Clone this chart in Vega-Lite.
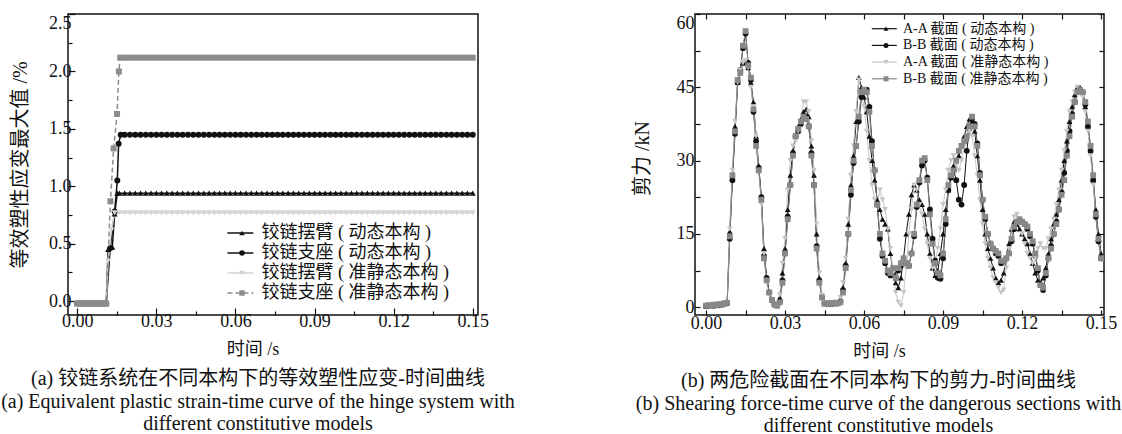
{
"$schema": "https://vega.github.io/schema/vega-lite/v6.json",
"background": "white",
"padding": {"left": 0, "top": 12, "right": 0, "bottom": 0},
"bounds": "flush",
"spacing": 217,
"config": {
"view": {"stroke": "#111", "strokeWidth": 1.5},
"font": "Liberation Serif, Noto Sans CJK SC",
"axis": {"grid": false, "domain": false, "labelFont": "Liberation Serif", "labelFontSize": 18, "labelColor": "#111", "titleFont": "Liberation Serif, Noto Sans CJK SC", "titleFontSize": 18, "titleFontWeight": "normal", "titleColor": "#111", "tickColor": "#111", "tickWidth": 1.2, "labelOverlap": false},
"legend": {"labelFont": "Liberation Serif, Noto Sans CJK SC", "labelColor": "#111", "padding": 0, "labelLimit": 400},
"title": {"font": "Liberation Serif, Noto Sans CJK SC", "fontSize": 20, "fontWeight": "normal", "color": "#111"}
},
"resolve": {"scale": {"color": "independent", "shape": "independent", "strokeDash": "independent"}, "legend": {"color": "independent", "shape": "independent", "strokeDash": "independent"}},
"datasets": {
"a": [
{"t":0,"s":"a1","v":-0.02},{"t":0.001,"s":"a1","v":-0.02},{"t":0.002,"s":"a1","v":-0.02},{"t":0.003,"s":"a1","v":-0.02},{"t":0.004,"s":"a1","v":-0.02},{"t":0.005,"s":"a1","v":-0.02},{"t":0.006,"s":"a1","v":-0.02},{"t":0.007,"s":"a1","v":-0.02},{"t":0.008,"s":"a1","v":-0.02},{"t":0.009,"s":"a1","v":-0.02},{"t":0.01,"s":"a1","v":-0.02},{"t":0.011,"s":"a1","v":-0.02},
{"t":0.0117,"s":"a1","v":0.45},{"t":0.0133,"s":"a1","v":0.47},{"t":0.0142,"s":"a1","v":0.76},{"t":0.0152,"s":"a1","v":0.94},
{"t":0.016,"s":"a1","v":0.94},{"t":0.018,"s":"a1","v":0.94},{"t":0.02,"s":"a1","v":0.94},{"t":0.022,"s":"a1","v":0.94},{"t":0.024,"s":"a1","v":0.94},{"t":0.026,"s":"a1","v":0.94},{"t":0.028,"s":"a1","v":0.94},{"t":0.03,"s":"a1","v":0.94},{"t":0.032,"s":"a1","v":0.94},{"t":0.034,"s":"a1","v":0.94},{"t":0.036,"s":"a1","v":0.94},{"t":0.038,"s":"a1","v":0.94},{"t":0.04,"s":"a1","v":0.94},{"t":0.042,"s":"a1","v":0.94},{"t":0.044,"s":"a1","v":0.94},{"t":0.046,"s":"a1","v":0.94},{"t":0.048,"s":"a1","v":0.94},{"t":0.05,"s":"a1","v":0.94},{"t":0.052,"s":"a1","v":0.94},{"t":0.054,"s":"a1","v":0.94},{"t":0.056,"s":"a1","v":0.94},{"t":0.058,"s":"a1","v":0.94},{"t":0.06,"s":"a1","v":0.94},{"t":0.062,"s":"a1","v":0.94},{"t":0.064,"s":"a1","v":0.94},{"t":0.066,"s":"a1","v":0.94},{"t":0.068,"s":"a1","v":0.94},{"t":0.07,"s":"a1","v":0.94},{"t":0.072,"s":"a1","v":0.94},{"t":0.074,"s":"a1","v":0.94},{"t":0.076,"s":"a1","v":0.94},{"t":0.078,"s":"a1","v":0.94},{"t":0.08,"s":"a1","v":0.94},{"t":0.082,"s":"a1","v":0.94},{"t":0.084,"s":"a1","v":0.94},{"t":0.086,"s":"a1","v":0.94},{"t":0.088,"s":"a1","v":0.94},{"t":0.09,"s":"a1","v":0.94},{"t":0.092,"s":"a1","v":0.94},{"t":0.094,"s":"a1","v":0.94},{"t":0.096,"s":"a1","v":0.94},{"t":0.098,"s":"a1","v":0.94},{"t":0.1,"s":"a1","v":0.94},{"t":0.102,"s":"a1","v":0.94},{"t":0.104,"s":"a1","v":0.94},{"t":0.106,"s":"a1","v":0.94},{"t":0.108,"s":"a1","v":0.94},{"t":0.11,"s":"a1","v":0.94},{"t":0.112,"s":"a1","v":0.94},{"t":0.114,"s":"a1","v":0.94},{"t":0.116,"s":"a1","v":0.94},{"t":0.118,"s":"a1","v":0.94},{"t":0.12,"s":"a1","v":0.94},{"t":0.122,"s":"a1","v":0.94},{"t":0.124,"s":"a1","v":0.94},{"t":0.126,"s":"a1","v":0.94},{"t":0.128,"s":"a1","v":0.94},{"t":0.13,"s":"a1","v":0.94},{"t":0.132,"s":"a1","v":0.94},{"t":0.134,"s":"a1","v":0.94},{"t":0.136,"s":"a1","v":0.94},{"t":0.138,"s":"a1","v":0.94},{"t":0.14,"s":"a1","v":0.94},{"t":0.142,"s":"a1","v":0.94},{"t":0.144,"s":"a1","v":0.94},{"t":0.146,"s":"a1","v":0.94},{"t":0.148,"s":"a1","v":0.94},{"t":0.15,"s":"a1","v":0.94},
{"t":0,"s":"a2","v":-0.02},{"t":0.001,"s":"a2","v":-0.02},{"t":0.002,"s":"a2","v":-0.02},{"t":0.003,"s":"a2","v":-0.02},{"t":0.004,"s":"a2","v":-0.02},{"t":0.005,"s":"a2","v":-0.02},{"t":0.006,"s":"a2","v":-0.02},{"t":0.007,"s":"a2","v":-0.02},{"t":0.008,"s":"a2","v":-0.02},{"t":0.009,"s":"a2","v":-0.02},{"t":0.01,"s":"a2","v":-0.02},{"t":0.011,"s":"a2","v":-0.02},
{"t":0.0125,"s":"a2","v":0.46},{"t":0.0142,"s":"a2","v":0.78},{"t":0.0152,"s":"a2","v":1.05},{"t":0.0157,"s":"a2","v":1.37},{"t":0.0165,"s":"a2","v":1.45},
{"t":0.018,"s":"a2","v":1.45},{"t":0.02,"s":"a2","v":1.45},{"t":0.022,"s":"a2","v":1.45},{"t":0.024,"s":"a2","v":1.45},{"t":0.026,"s":"a2","v":1.45},{"t":0.028,"s":"a2","v":1.45},{"t":0.03,"s":"a2","v":1.45},{"t":0.032,"s":"a2","v":1.45},{"t":0.034,"s":"a2","v":1.45},{"t":0.036,"s":"a2","v":1.45},{"t":0.038,"s":"a2","v":1.45},{"t":0.04,"s":"a2","v":1.45},{"t":0.042,"s":"a2","v":1.45},{"t":0.044,"s":"a2","v":1.45},{"t":0.046,"s":"a2","v":1.45},{"t":0.048,"s":"a2","v":1.45},{"t":0.05,"s":"a2","v":1.45},{"t":0.052,"s":"a2","v":1.45},{"t":0.054,"s":"a2","v":1.45},{"t":0.056,"s":"a2","v":1.45},{"t":0.058,"s":"a2","v":1.45},{"t":0.06,"s":"a2","v":1.45},{"t":0.062,"s":"a2","v":1.45},{"t":0.064,"s":"a2","v":1.45},{"t":0.066,"s":"a2","v":1.45},{"t":0.068,"s":"a2","v":1.45},{"t":0.07,"s":"a2","v":1.45},{"t":0.072,"s":"a2","v":1.45},{"t":0.074,"s":"a2","v":1.45},{"t":0.076,"s":"a2","v":1.45},{"t":0.078,"s":"a2","v":1.45},{"t":0.08,"s":"a2","v":1.45},{"t":0.082,"s":"a2","v":1.45},{"t":0.084,"s":"a2","v":1.45},{"t":0.086,"s":"a2","v":1.45},{"t":0.088,"s":"a2","v":1.45},{"t":0.09,"s":"a2","v":1.45},{"t":0.092,"s":"a2","v":1.45},{"t":0.094,"s":"a2","v":1.45},{"t":0.096,"s":"a2","v":1.45},{"t":0.098,"s":"a2","v":1.45},{"t":0.1,"s":"a2","v":1.45},{"t":0.102,"s":"a2","v":1.45},{"t":0.104,"s":"a2","v":1.45},{"t":0.106,"s":"a2","v":1.45},{"t":0.108,"s":"a2","v":1.45},{"t":0.11,"s":"a2","v":1.45},{"t":0.112,"s":"a2","v":1.45},{"t":0.114,"s":"a2","v":1.45},{"t":0.116,"s":"a2","v":1.45},{"t":0.118,"s":"a2","v":1.45},{"t":0.12,"s":"a2","v":1.45},{"t":0.122,"s":"a2","v":1.45},{"t":0.124,"s":"a2","v":1.45},{"t":0.126,"s":"a2","v":1.45},{"t":0.128,"s":"a2","v":1.45},{"t":0.13,"s":"a2","v":1.45},{"t":0.132,"s":"a2","v":1.45},{"t":0.134,"s":"a2","v":1.45},{"t":0.136,"s":"a2","v":1.45},{"t":0.138,"s":"a2","v":1.45},{"t":0.14,"s":"a2","v":1.45},{"t":0.142,"s":"a2","v":1.45},{"t":0.144,"s":"a2","v":1.45},{"t":0.146,"s":"a2","v":1.45},{"t":0.148,"s":"a2","v":1.45},{"t":0.15,"s":"a2","v":1.45},
{"t":0,"s":"a3","v":-0.02},{"t":0.001,"s":"a3","v":-0.02},{"t":0.002,"s":"a3","v":-0.02},{"t":0.003,"s":"a3","v":-0.02},{"t":0.004,"s":"a3","v":-0.02},{"t":0.005,"s":"a3","v":-0.02},{"t":0.006,"s":"a3","v":-0.02},{"t":0.007,"s":"a3","v":-0.02},{"t":0.008,"s":"a3","v":-0.02},{"t":0.009,"s":"a3","v":-0.02},{"t":0.01,"s":"a3","v":-0.02},{"t":0.011,"s":"a3","v":-0.02},
{"t":0.0117,"s":"a3","v":0.35},{"t":0.013,"s":"a3","v":0.62},{"t":0.0142,"s":"a3","v":0.77},
{"t":0.016,"s":"a3","v":0.77},{"t":0.018,"s":"a3","v":0.77},{"t":0.02,"s":"a3","v":0.77},{"t":0.022,"s":"a3","v":0.77},{"t":0.024,"s":"a3","v":0.77},{"t":0.026,"s":"a3","v":0.77},{"t":0.028,"s":"a3","v":0.77},{"t":0.03,"s":"a3","v":0.77},{"t":0.032,"s":"a3","v":0.77},{"t":0.034,"s":"a3","v":0.77},{"t":0.036,"s":"a3","v":0.77},{"t":0.038,"s":"a3","v":0.77},{"t":0.04,"s":"a3","v":0.77},{"t":0.042,"s":"a3","v":0.77},{"t":0.044,"s":"a3","v":0.77},{"t":0.046,"s":"a3","v":0.77},{"t":0.048,"s":"a3","v":0.77},{"t":0.05,"s":"a3","v":0.77},{"t":0.052,"s":"a3","v":0.77},{"t":0.054,"s":"a3","v":0.77},{"t":0.056,"s":"a3","v":0.77},{"t":0.058,"s":"a3","v":0.77},{"t":0.06,"s":"a3","v":0.77},{"t":0.062,"s":"a3","v":0.77},{"t":0.064,"s":"a3","v":0.77},{"t":0.066,"s":"a3","v":0.77},{"t":0.068,"s":"a3","v":0.77},{"t":0.07,"s":"a3","v":0.77},{"t":0.072,"s":"a3","v":0.77},{"t":0.074,"s":"a3","v":0.77},{"t":0.076,"s":"a3","v":0.77},{"t":0.078,"s":"a3","v":0.77},{"t":0.08,"s":"a3","v":0.77},{"t":0.082,"s":"a3","v":0.77},{"t":0.084,"s":"a3","v":0.77},{"t":0.086,"s":"a3","v":0.77},{"t":0.088,"s":"a3","v":0.77},{"t":0.09,"s":"a3","v":0.77},{"t":0.092,"s":"a3","v":0.77},{"t":0.094,"s":"a3","v":0.77},{"t":0.096,"s":"a3","v":0.77},{"t":0.098,"s":"a3","v":0.77},{"t":0.1,"s":"a3","v":0.77},{"t":0.102,"s":"a3","v":0.77},{"t":0.104,"s":"a3","v":0.77},{"t":0.106,"s":"a3","v":0.77},{"t":0.108,"s":"a3","v":0.77},{"t":0.11,"s":"a3","v":0.77},{"t":0.112,"s":"a3","v":0.77},{"t":0.114,"s":"a3","v":0.77},{"t":0.116,"s":"a3","v":0.77},{"t":0.118,"s":"a3","v":0.77},{"t":0.12,"s":"a3","v":0.77},{"t":0.122,"s":"a3","v":0.77},{"t":0.124,"s":"a3","v":0.77},{"t":0.126,"s":"a3","v":0.77},{"t":0.128,"s":"a3","v":0.77},{"t":0.13,"s":"a3","v":0.77},{"t":0.132,"s":"a3","v":0.77},{"t":0.134,"s":"a3","v":0.77},{"t":0.136,"s":"a3","v":0.77},{"t":0.138,"s":"a3","v":0.77},{"t":0.14,"s":"a3","v":0.77},{"t":0.142,"s":"a3","v":0.77},{"t":0.144,"s":"a3","v":0.77},{"t":0.146,"s":"a3","v":0.77},{"t":0.148,"s":"a3","v":0.77},{"t":0.15,"s":"a3","v":0.77},
{"t":0,"s":"a4","v":-0.02},{"t":0.001,"s":"a4","v":-0.02},{"t":0.002,"s":"a4","v":-0.02},{"t":0.003,"s":"a4","v":-0.02},{"t":0.004,"s":"a4","v":-0.02},{"t":0.005,"s":"a4","v":-0.02},{"t":0.006,"s":"a4","v":-0.02},{"t":0.007,"s":"a4","v":-0.02},{"t":0.008,"s":"a4","v":-0.02},{"t":0.009,"s":"a4","v":-0.02},{"t":0.01,"s":"a4","v":-0.02},{"t":0.011,"s":"a4","v":-0.02},
{"t":0.0126,"s":"a4","v":0.87},{"t":0.0138,"s":"a4","v":1.33},{"t":0.0151,"s":"a4","v":1.63},{"t":0.0158,"s":"a4","v":2.0},{"t":0.0163,"s":"a4","v":2.12},
{"t":0.018,"s":"a4","v":2.12},{"t":0.02,"s":"a4","v":2.12},{"t":0.022,"s":"a4","v":2.12},{"t":0.024,"s":"a4","v":2.12},{"t":0.026,"s":"a4","v":2.12},{"t":0.028,"s":"a4","v":2.12},{"t":0.03,"s":"a4","v":2.12},{"t":0.032,"s":"a4","v":2.12},{"t":0.034,"s":"a4","v":2.12},{"t":0.036,"s":"a4","v":2.12},{"t":0.038,"s":"a4","v":2.12},{"t":0.04,"s":"a4","v":2.12},{"t":0.042,"s":"a4","v":2.12},{"t":0.044,"s":"a4","v":2.12},{"t":0.046,"s":"a4","v":2.12},{"t":0.048,"s":"a4","v":2.12},{"t":0.05,"s":"a4","v":2.12},{"t":0.052,"s":"a4","v":2.12},{"t":0.054,"s":"a4","v":2.12},{"t":0.056,"s":"a4","v":2.12},{"t":0.058,"s":"a4","v":2.12},{"t":0.06,"s":"a4","v":2.12},{"t":0.062,"s":"a4","v":2.12},{"t":0.064,"s":"a4","v":2.12},{"t":0.066,"s":"a4","v":2.12},{"t":0.068,"s":"a4","v":2.12},{"t":0.07,"s":"a4","v":2.12},{"t":0.072,"s":"a4","v":2.12},{"t":0.074,"s":"a4","v":2.12},{"t":0.076,"s":"a4","v":2.12},{"t":0.078,"s":"a4","v":2.12},{"t":0.08,"s":"a4","v":2.12},{"t":0.082,"s":"a4","v":2.12},{"t":0.084,"s":"a4","v":2.12},{"t":0.086,"s":"a4","v":2.12},{"t":0.088,"s":"a4","v":2.12},{"t":0.09,"s":"a4","v":2.12},{"t":0.092,"s":"a4","v":2.12},{"t":0.094,"s":"a4","v":2.12},{"t":0.096,"s":"a4","v":2.12},{"t":0.098,"s":"a4","v":2.12},{"t":0.1,"s":"a4","v":2.12},{"t":0.102,"s":"a4","v":2.12},{"t":0.104,"s":"a4","v":2.12},{"t":0.106,"s":"a4","v":2.12},{"t":0.108,"s":"a4","v":2.12},{"t":0.11,"s":"a4","v":2.12},{"t":0.112,"s":"a4","v":2.12},{"t":0.114,"s":"a4","v":2.12},{"t":0.116,"s":"a4","v":2.12},{"t":0.118,"s":"a4","v":2.12},{"t":0.12,"s":"a4","v":2.12},{"t":0.122,"s":"a4","v":2.12},{"t":0.124,"s":"a4","v":2.12},{"t":0.126,"s":"a4","v":2.12},{"t":0.128,"s":"a4","v":2.12},{"t":0.13,"s":"a4","v":2.12},{"t":0.132,"s":"a4","v":2.12},{"t":0.134,"s":"a4","v":2.12},{"t":0.136,"s":"a4","v":2.12},{"t":0.138,"s":"a4","v":2.12},{"t":0.14,"s":"a4","v":2.12},{"t":0.142,"s":"a4","v":2.12},{"t":0.144,"s":"a4","v":2.12},{"t":0.146,"s":"a4","v":2.12},{"t":0.148,"s":"a4","v":2.12},{"t":0.15,"s":"a4","v":2.12}
],
"b": [
{"t":0.000,"s":"b1","v":0.3},{"t":0.001,"s":"b1","v":0.5},{"t":0.002,"s":"b1","v":0.4},{"t":0.003,"s":"b1","v":0.6},{"t":0.004,"s":"b1","v":0.5},{"t":0.005,"s":"b1","v":0.7},{"t":0.006,"s":"b1","v":0.6},{"t":0.007,"s":"b1","v":0.8},{"t":0.008,"s":"b1","v":1},{"t":0.009,"s":"b1","v":15.5},
{"t":0.010,"s":"b1","v":27},{"t":0.011,"s":"b1","v":37},{"t":0.012,"s":"b1","v":46},{"t":0.013,"s":"b1","v":48},{"t":0.014,"s":"b1","v":50},{"t":0.015,"s":"b1","v":50},{"t":0.016,"s":"b1","v":49},{"t":0.017,"s":"b1","v":46},{"t":0.018,"s":"b1","v":42},{"t":0.019,"s":"b1","v":35},
{"t":0.020,"s":"b1","v":29},{"t":0.021,"s":"b1","v":22},{"t":0.022,"s":"b1","v":12},{"t":0.023,"s":"b1","v":6},{"t":0.024,"s":"b1","v":3},{"t":0.025,"s":"b1","v":1.5},{"t":0.026,"s":"b1","v":0.8},{"t":0.027,"s":"b1","v":0.8},{"t":0.028,"s":"b1","v":2},{"t":0.029,"s":"b1","v":7},
{"t":0.030,"s":"b1","v":12},{"t":0.031,"s":"b1","v":20},{"t":0.032,"s":"b1","v":27},{"t":0.033,"s":"b1","v":32},{"t":0.034,"s":"b1","v":35},{"t":0.035,"s":"b1","v":37},{"t":0.036,"s":"b1","v":38.5},{"t":0.037,"s":"b1","v":40},{"t":0.038,"s":"b1","v":40.5},{"t":0.039,"s":"b1","v":39},
{"t":0.040,"s":"b1","v":33},{"t":0.041,"s":"b1","v":27},{"t":0.042,"s":"b1","v":15},{"t":0.043,"s":"b1","v":6},{"t":0.044,"s":"b1","v":2.5},{"t":0.045,"s":"b1","v":1},{"t":0.046,"s":"b1","v":0.8},{"t":0.047,"s":"b1","v":0.7},{"t":0.048,"s":"b1","v":0.9},{"t":0.049,"s":"b1","v":0.8},
{"t":0.050,"s":"b1","v":0.9},{"t":0.051,"s":"b1","v":1.5},{"t":0.052,"s":"b1","v":4},{"t":0.053,"s":"b1","v":9},{"t":0.054,"s":"b1","v":17},{"t":0.055,"s":"b1","v":25},{"t":0.056,"s":"b1","v":31},{"t":0.057,"s":"b1","v":38},{"t":0.058,"s":"b1","v":47},{"t":0.059,"s":"b1","v":45},
{"t":0.060,"s":"b1","v":43},{"t":0.061,"s":"b1","v":40},{"t":0.062,"s":"b1","v":35},{"t":0.063,"s":"b1","v":30},{"t":0.064,"s":"b1","v":26},{"t":0.065,"s":"b1","v":22},{"t":0.066,"s":"b1","v":20},{"t":0.067,"s":"b1","v":18},{"t":0.068,"s":"b1","v":17},{"t":0.069,"s":"b1","v":16},
{"t":0.070,"s":"b1","v":11},{"t":0.071,"s":"b1","v":7},{"t":0.072,"s":"b1","v":5},{"t":0.073,"s":"b1","v":4},{"t":0.074,"s":"b1","v":6},{"t":0.075,"s":"b1","v":10},{"t":0.076,"s":"b1","v":15},{"t":0.077,"s":"b1","v":19},{"t":0.078,"s":"b1","v":23},{"t":0.079,"s":"b1","v":25},
{"t":0.080,"s":"b1","v":24},{"t":0.081,"s":"b1","v":22},{"t":0.082,"s":"b1","v":21},{"t":0.083,"s":"b1","v":19},{"t":0.084,"s":"b1","v":15},{"t":0.085,"s":"b1","v":11},{"t":0.086,"s":"b1","v":8},{"t":0.087,"s":"b1","v":6.5},{"t":0.088,"s":"b1","v":7.5},{"t":0.089,"s":"b1","v":11},
{"t":0.090,"s":"b1","v":15},{"t":0.091,"s":"b1","v":20},{"t":0.092,"s":"b1","v":24},{"t":0.093,"s":"b1","v":27},{"t":0.094,"s":"b1","v":29},{"t":0.095,"s":"b1","v":30},{"t":0.096,"s":"b1","v":31},{"t":0.097,"s":"b1","v":33},{"t":0.098,"s":"b1","v":35},{"t":0.099,"s":"b1","v":37},
{"t":0.100,"s":"b1","v":38.5},{"t":0.101,"s":"b1","v":38},{"t":0.102,"s":"b1","v":36},{"t":0.103,"s":"b1","v":31},{"t":0.104,"s":"b1","v":26},{"t":0.105,"s":"b1","v":20},{"t":0.106,"s":"b1","v":15},{"t":0.107,"s":"b1","v":12},{"t":0.108,"s":"b1","v":10},{"t":0.109,"s":"b1","v":8},
{"t":0.110,"s":"b1","v":6},{"t":0.111,"s":"b1","v":5},{"t":0.112,"s":"b1","v":5.5},{"t":0.113,"s":"b1","v":7},{"t":0.114,"s":"b1","v":10},{"t":0.115,"s":"b1","v":13},{"t":0.116,"s":"b1","v":16},{"t":0.117,"s":"b1","v":17.5},{"t":0.118,"s":"b1","v":17},{"t":0.119,"s":"b1","v":16},
{"t":0.120,"s":"b1","v":15},{"t":0.121,"s":"b1","v":14},{"t":0.122,"s":"b1","v":13},{"t":0.123,"s":"b1","v":11},{"t":0.124,"s":"b1","v":9},{"t":0.125,"s":"b1","v":7},{"t":0.126,"s":"b1","v":5.5},{"t":0.127,"s":"b1","v":5},{"t":0.128,"s":"b1","v":6},{"t":0.129,"s":"b1","v":8},
{"t":0.130,"s":"b1","v":11},{"t":0.131,"s":"b1","v":14},{"t":0.132,"s":"b1","v":17},{"t":0.133,"s":"b1","v":19},{"t":0.134,"s":"b1","v":22},{"t":0.135,"s":"b1","v":26},{"t":0.136,"s":"b1","v":30},{"t":0.137,"s":"b1","v":34},{"t":0.138,"s":"b1","v":38},{"t":0.139,"s":"b1","v":41},
{"t":0.140,"s":"b1","v":43.5},{"t":0.141,"s":"b1","v":45},{"t":0.142,"s":"b1","v":45},{"t":0.143,"s":"b1","v":44},{"t":0.144,"s":"b1","v":41},{"t":0.145,"s":"b1","v":37},{"t":0.146,"s":"b1","v":32},{"t":0.147,"s":"b1","v":26},{"t":0.148,"s":"b1","v":20},{"t":0.149,"s":"b1","v":15},{"t":0.150,"s":"b1","v":11},
{"t":0.000,"s":"b2","v":0.2},{"t":0.001,"s":"b2","v":0.3},{"t":0.002,"s":"b2","v":0.4},{"t":0.003,"s":"b2","v":0.3},{"t":0.004,"s":"b2","v":0.5},{"t":0.005,"s":"b2","v":0.4},{"t":0.006,"s":"b2","v":0.6},{"t":0.007,"s":"b2","v":0.7},{"t":0.008,"s":"b2","v":0.8},{"t":0.009,"s":"b2","v":14},
{"t":0.010,"s":"b2","v":26},{"t":0.011,"s":"b2","v":35.5},{"t":0.012,"s":"b2","v":46},{"t":0.013,"s":"b2","v":48.5},{"t":0.014,"s":"b2","v":53},{"t":0.015,"s":"b2","v":56},{"t":0.016,"s":"b2","v":50},{"t":0.017,"s":"b2","v":46.5},{"t":0.018,"s":"b2","v":40},{"t":0.019,"s":"b2","v":34},
{"t":0.020,"s":"b2","v":28.5},{"t":0.021,"s":"b2","v":22.5},{"t":0.022,"s":"b2","v":10.5},{"t":0.023,"s":"b2","v":6},{"t":0.024,"s":"b2","v":3},{"t":0.025,"s":"b2","v":1.5},{"t":0.026,"s":"b2","v":0.6},{"t":0.027,"s":"b2","v":0.4},{"t":0.028,"s":"b2","v":1.2},{"t":0.029,"s":"b2","v":5.5},
{"t":0.030,"s":"b2","v":11},{"t":0.031,"s":"b2","v":18.5},{"t":0.032,"s":"b2","v":25},{"t":0.033,"s":"b2","v":31.5},{"t":0.034,"s":"b2","v":35},{"t":0.035,"s":"b2","v":36},{"t":0.036,"s":"b2","v":37.5},{"t":0.037,"s":"b2","v":38.5},{"t":0.038,"s":"b2","v":39},{"t":0.039,"s":"b2","v":37},
{"t":0.040,"s":"b2","v":31.5},{"t":0.041,"s":"b2","v":25},{"t":0.042,"s":"b2","v":12.5},{"t":0.043,"s":"b2","v":5.5},{"t":0.044,"s":"b2","v":2},{"t":0.045,"s":"b2","v":0.8},{"t":0.046,"s":"b2","v":0.7},{"t":0.047,"s":"b2","v":0.8},{"t":0.048,"s":"b2","v":0.7},{"t":0.049,"s":"b2","v":0.9},
{"t":0.050,"s":"b2","v":0.8},{"t":0.051,"s":"b2","v":1.2},{"t":0.052,"s":"b2","v":3.5},{"t":0.053,"s":"b2","v":8.5},{"t":0.054,"s":"b2","v":15},{"t":0.055,"s":"b2","v":23},{"t":0.056,"s":"b2","v":29.5},{"t":0.057,"s":"b2","v":33},{"t":0.058,"s":"b2","v":38},{"t":0.059,"s":"b2","v":43},
{"t":0.060,"s":"b2","v":44},{"t":0.061,"s":"b2","v":44.5},{"t":0.062,"s":"b2","v":41},{"t":0.063,"s":"b2","v":34},{"t":0.064,"s":"b2","v":28},{"t":0.065,"s":"b2","v":21},{"t":0.066,"s":"b2","v":14},{"t":0.067,"s":"b2","v":10.5},{"t":0.068,"s":"b2","v":9},{"t":0.069,"s":"b2","v":7},
{"t":0.070,"s":"b2","v":6.5},{"t":0.071,"s":"b2","v":7},{"t":0.072,"s":"b2","v":6},{"t":0.073,"s":"b2","v":7.5},{"t":0.074,"s":"b2","v":8.5},{"t":0.075,"s":"b2","v":9.5},{"t":0.076,"s":"b2","v":9},{"t":0.077,"s":"b2","v":8.5},{"t":0.078,"s":"b2","v":11},{"t":0.079,"s":"b2","v":14.5},
{"t":0.080,"s":"b2","v":20.5},{"t":0.081,"s":"b2","v":25.5},{"t":0.082,"s":"b2","v":29},{"t":0.083,"s":"b2","v":30},{"t":0.084,"s":"b2","v":26.5},{"t":0.085,"s":"b2","v":20},{"t":0.086,"s":"b2","v":14},{"t":0.087,"s":"b2","v":9.5},{"t":0.088,"s":"b2","v":6},{"t":0.089,"s":"b2","v":5.8},
{"t":0.090,"s":"b2","v":10},{"t":0.091,"s":"b2","v":17},{"t":0.092,"s":"b2","v":24},{"t":0.093,"s":"b2","v":26.5},{"t":0.094,"s":"b2","v":28},{"t":0.095,"s":"b2","v":26},{"t":0.096,"s":"b2","v":22},{"t":0.097,"s":"b2","v":21},{"t":0.098,"s":"b2","v":25},{"t":0.099,"s":"b2","v":32},
{"t":0.100,"s":"b2","v":36.5},{"t":0.101,"s":"b2","v":38.5},{"t":0.102,"s":"b2","v":37.5},{"t":0.103,"s":"b2","v":33.5},{"t":0.104,"s":"b2","v":27.5},{"t":0.105,"s":"b2","v":22},{"t":0.106,"s":"b2","v":18},{"t":0.107,"s":"b2","v":15},{"t":0.108,"s":"b2","v":13},{"t":0.109,"s":"b2","v":12},
{"t":0.110,"s":"b2","v":11},{"t":0.111,"s":"b2","v":10.5},{"t":0.112,"s":"b2","v":9},{"t":0.113,"s":"b2","v":9.5},{"t":0.114,"s":"b2","v":10},{"t":0.115,"s":"b2","v":11},{"t":0.116,"s":"b2","v":13.5},{"t":0.117,"s":"b2","v":16},{"t":0.118,"s":"b2","v":17},{"t":0.119,"s":"b2","v":17.5},
{"t":0.120,"s":"b2","v":17.5},{"t":0.121,"s":"b2","v":17},{"t":0.122,"s":"b2","v":16},{"t":0.123,"s":"b2","v":14.5},{"t":0.124,"s":"b2","v":13},{"t":0.125,"s":"b2","v":10.5},{"t":0.126,"s":"b2","v":7.5},{"t":0.127,"s":"b2","v":4.5},{"t":0.128,"s":"b2","v":3.5},{"t":0.129,"s":"b2","v":6.5},
{"t":0.130,"s":"b2","v":10},{"t":0.131,"s":"b2","v":12.5},{"t":0.132,"s":"b2","v":15},{"t":0.133,"s":"b2","v":17.5},{"t":0.134,"s":"b2","v":20},{"t":0.135,"s":"b2","v":23.5},{"t":0.136,"s":"b2","v":27.5},{"t":0.137,"s":"b2","v":32},{"t":0.138,"s":"b2","v":36},{"t":0.139,"s":"b2","v":39.5},
{"t":0.140,"s":"b2","v":42},{"t":0.141,"s":"b2","v":44},{"t":0.142,"s":"b2","v":44.5},{"t":0.143,"s":"b2","v":44},{"t":0.144,"s":"b2","v":41.5},{"t":0.145,"s":"b2","v":37},{"t":0.146,"s":"b2","v":32},{"t":0.147,"s":"b2","v":26},{"t":0.148,"s":"b2","v":18.5},{"t":0.149,"s":"b2","v":13.5},{"t":0.150,"s":"b2","v":10},
{"t":0.000,"s":"b3","v":0.2},{"t":0.001,"s":"b3","v":0.4},{"t":0.002,"s":"b3","v":0.5},{"t":0.003,"s":"b3","v":0.4},{"t":0.004,"s":"b3","v":0.6},{"t":0.005,"s":"b3","v":0.5},{"t":0.006,"s":"b3","v":0.7},{"t":0.007,"s":"b3","v":0.6},{"t":0.008,"s":"b3","v":0.9},{"t":0.009,"s":"b3","v":16},
{"t":0.010,"s":"b3","v":28},{"t":0.011,"s":"b3","v":38},{"t":0.012,"s":"b3","v":46},{"t":0.013,"s":"b3","v":48.5},{"t":0.014,"s":"b3","v":50},{"t":0.015,"s":"b3","v":50.5},{"t":0.016,"s":"b3","v":49},{"t":0.017,"s":"b3","v":45},{"t":0.018,"s":"b3","v":41},{"t":0.019,"s":"b3","v":35},
{"t":0.020,"s":"b3","v":28},{"t":0.021,"s":"b3","v":21},{"t":0.022,"s":"b3","v":11},{"t":0.023,"s":"b3","v":5},{"t":0.024,"s":"b3","v":2.5},{"t":0.025,"s":"b3","v":1.2},{"t":0.026,"s":"b3","v":0.5},{"t":0.027,"s":"b3","v":0.8},{"t":0.028,"s":"b3","v":2.5},{"t":0.029,"s":"b3","v":9},
{"t":0.030,"s":"b3","v":14},{"t":0.031,"s":"b3","v":24},{"t":0.032,"s":"b3","v":30},{"t":0.033,"s":"b3","v":33},{"t":0.034,"s":"b3","v":34},{"t":0.035,"s":"b3","v":36},{"t":0.036,"s":"b3","v":38},{"t":0.037,"s":"b3","v":42},{"t":0.038,"s":"b3","v":42},{"t":0.039,"s":"b3","v":40},
{"t":0.040,"s":"b3","v":34},{"t":0.041,"s":"b3","v":28},{"t":0.042,"s":"b3","v":17},{"t":0.043,"s":"b3","v":7},{"t":0.044,"s":"b3","v":2.5},{"t":0.045,"s":"b3","v":1},{"t":0.046,"s":"b3","v":0.8},{"t":0.047,"s":"b3","v":0.9},{"t":0.048,"s":"b3","v":0.7},{"t":0.049,"s":"b3","v":0.9},
{"t":0.050,"s":"b3","v":0.8},{"t":0.051,"s":"b3","v":2},{"t":0.052,"s":"b3","v":5},{"t":0.053,"s":"b3","v":10},{"t":0.054,"s":"b3","v":18},{"t":0.055,"s":"b3","v":27},{"t":0.056,"s":"b3","v":33},{"t":0.057,"s":"b3","v":40},{"t":0.058,"s":"b3","v":46.5},{"t":0.059,"s":"b3","v":44},
{"t":0.060,"s":"b3","v":41},{"t":0.061,"s":"b3","v":36},{"t":0.062,"s":"b3","v":30},{"t":0.063,"s":"b3","v":25},{"t":0.064,"s":"b3","v":22},{"t":0.065,"s":"b3","v":21},{"t":0.066,"s":"b3","v":24},{"t":0.067,"s":"b3","v":22},{"t":0.068,"s":"b3","v":20},{"t":0.069,"s":"b3","v":16},
{"t":0.070,"s":"b3","v":12},{"t":0.071,"s":"b3","v":7},{"t":0.072,"s":"b3","v":3},{"t":0.073,"s":"b3","v":1},{"t":0.074,"s":"b3","v":0.3},{"t":0.075,"s":"b3","v":3},{"t":0.076,"s":"b3","v":8},{"t":0.077,"s":"b3","v":15},{"t":0.078,"s":"b3","v":20},{"t":0.079,"s":"b3","v":25},
{"t":0.080,"s":"b3","v":24},{"t":0.081,"s":"b3","v":21},{"t":0.082,"s":"b3","v":19},{"t":0.083,"s":"b3","v":16},{"t":0.084,"s":"b3","v":13},{"t":0.085,"s":"b3","v":10},{"t":0.086,"s":"b3","v":8},{"t":0.087,"s":"b3","v":9},{"t":0.088,"s":"b3","v":12},{"t":0.089,"s":"b3","v":16},
{"t":0.090,"s":"b3","v":21},{"t":0.091,"s":"b3","v":24},{"t":0.092,"s":"b3","v":28},{"t":0.093,"s":"b3","v":30},{"t":0.094,"s":"b3","v":31},{"t":0.095,"s":"b3","v":29},{"t":0.096,"s":"b3","v":28},{"t":0.097,"s":"b3","v":30},{"t":0.098,"s":"b3","v":33},{"t":0.099,"s":"b3","v":35},
{"t":0.100,"s":"b3","v":36},{"t":0.101,"s":"b3","v":35},{"t":0.102,"s":"b3","v":31},{"t":0.103,"s":"b3","v":27},{"t":0.104,"s":"b3","v":22},{"t":0.105,"s":"b3","v":17},{"t":0.106,"s":"b3","v":13},{"t":0.107,"s":"b3","v":10},{"t":0.108,"s":"b3","v":8},{"t":0.109,"s":"b3","v":6},
{"t":0.110,"s":"b3","v":5},{"t":0.111,"s":"b3","v":4},{"t":0.112,"s":"b3","v":3},{"t":0.113,"s":"b3","v":3.5},{"t":0.114,"s":"b3","v":8},{"t":0.115,"s":"b3","v":12},{"t":0.116,"s":"b3","v":16},{"t":0.117,"s":"b3","v":18.5},{"t":0.118,"s":"b3","v":19},{"t":0.119,"s":"b3","v":17},
{"t":0.120,"s":"b3","v":15},{"t":0.121,"s":"b3","v":13},{"t":0.122,"s":"b3","v":11},{"t":0.123,"s":"b3","v":10},{"t":0.124,"s":"b3","v":9},{"t":0.125,"s":"b3","v":10},{"t":0.126,"s":"b3","v":12},{"t":0.127,"s":"b3","v":13},{"t":0.128,"s":"b3","v":12},{"t":0.129,"s":"b3","v":12},
{"t":0.130,"s":"b3","v":14},{"t":0.131,"s":"b3","v":16},{"t":0.132,"s":"b3","v":18},{"t":0.133,"s":"b3","v":21},{"t":0.134,"s":"b3","v":24},{"t":0.135,"s":"b3","v":28},{"t":0.136,"s":"b3","v":32},{"t":0.137,"s":"b3","v":36},{"t":0.138,"s":"b3","v":40},{"t":0.139,"s":"b3","v":42},
{"t":0.140,"s":"b3","v":44},{"t":0.141,"s":"b3","v":45},{"t":0.142,"s":"b3","v":44.5},{"t":0.143,"s":"b3","v":43},{"t":0.144,"s":"b3","v":40},{"t":0.145,"s":"b3","v":36},{"t":0.146,"s":"b3","v":31},{"t":0.147,"s":"b3","v":25},{"t":0.148,"s":"b3","v":19},{"t":0.149,"s":"b3","v":14},{"t":0.150,"s":"b3","v":10},
{"t":0.000,"s":"b4","v":0.3},{"t":0.001,"s":"b4","v":0.4},{"t":0.002,"s":"b4","v":0.3},{"t":0.003,"s":"b4","v":0.5},{"t":0.004,"s":"b4","v":0.4},{"t":0.005,"s":"b4","v":0.6},{"t":0.006,"s":"b4","v":0.5},{"t":0.007,"s":"b4","v":0.8},{"t":0.008,"s":"b4","v":0.9},{"t":0.009,"s":"b4","v":14.5},
{"t":0.010,"s":"b4","v":27},{"t":0.011,"s":"b4","v":36},{"t":0.012,"s":"b4","v":46.5},{"t":0.013,"s":"b4","v":48},{"t":0.014,"s":"b4","v":53.5},{"t":0.015,"s":"b4","v":56.5},{"t":0.016,"s":"b4","v":49.5},{"t":0.017,"s":"b4","v":47},{"t":0.018,"s":"b4","v":40.5},{"t":0.019,"s":"b4","v":33},
{"t":0.020,"s":"b4","v":28},{"t":0.021,"s":"b4","v":22},{"t":0.022,"s":"b4","v":10},{"t":0.023,"s":"b4","v":5.5},{"t":0.024,"s":"b4","v":3},{"t":0.025,"s":"b4","v":1.5},{"t":0.026,"s":"b4","v":0.5},{"t":0.027,"s":"b4","v":0.3},{"t":0.028,"s":"b4","v":1},{"t":0.029,"s":"b4","v":5},
{"t":0.030,"s":"b4","v":11},{"t":0.031,"s":"b4","v":18},{"t":0.032,"s":"b4","v":25},{"t":0.033,"s":"b4","v":31},{"t":0.034,"s":"b4","v":35},{"t":0.035,"s":"b4","v":36.5},{"t":0.036,"s":"b4","v":38},{"t":0.037,"s":"b4","v":39},{"t":0.038,"s":"b4","v":38.5},{"t":0.039,"s":"b4","v":37},
{"t":0.040,"s":"b4","v":31},{"t":0.041,"s":"b4","v":25},{"t":0.042,"s":"b4","v":12},{"t":0.043,"s":"b4","v":5},{"t":0.044,"s":"b4","v":2},{"t":0.045,"s":"b4","v":0.7},{"t":0.046,"s":"b4","v":0.8},{"t":0.047,"s":"b4","v":0.6},{"t":0.048,"s":"b4","v":0.9},{"t":0.049,"s":"b4","v":0.7},
{"t":0.050,"s":"b4","v":0.8},{"t":0.051,"s":"b4","v":1},{"t":0.052,"s":"b4","v":3},{"t":0.053,"s":"b4","v":8},{"t":0.054,"s":"b4","v":15},{"t":0.055,"s":"b4","v":24},{"t":0.056,"s":"b4","v":30},{"t":0.057,"s":"b4","v":33},{"t":0.058,"s":"b4","v":39},{"t":0.059,"s":"b4","v":44},
{"t":0.060,"s":"b4","v":44.5},{"t":0.061,"s":"b4","v":44},{"t":0.062,"s":"b4","v":40},{"t":0.063,"s":"b4","v":33},{"t":0.064,"s":"b4","v":28},{"t":0.065,"s":"b4","v":21},{"t":0.066,"s":"b4","v":15},{"t":0.067,"s":"b4","v":11},{"t":0.068,"s":"b4","v":9.5},{"t":0.069,"s":"b4","v":7.5},
{"t":0.070,"s":"b4","v":7},{"t":0.071,"s":"b4","v":8},{"t":0.072,"s":"b4","v":6},{"t":0.073,"s":"b4","v":8},{"t":0.074,"s":"b4","v":9},{"t":0.075,"s":"b4","v":10},{"t":0.076,"s":"b4","v":9},{"t":0.077,"s":"b4","v":8.5},{"t":0.078,"s":"b4","v":11},{"t":0.079,"s":"b4","v":15},
{"t":0.080,"s":"b4","v":21},{"t":0.081,"s":"b4","v":26},{"t":0.082,"s":"b4","v":30},{"t":0.083,"s":"b4","v":30.5},{"t":0.084,"s":"b4","v":26},{"t":0.085,"s":"b4","v":19},{"t":0.086,"s":"b4","v":13},{"t":0.087,"s":"b4","v":9},{"t":0.088,"s":"b4","v":7},{"t":0.089,"s":"b4","v":6.5},
{"t":0.090,"s":"b4","v":11},{"t":0.091,"s":"b4","v":18},{"t":0.092,"s":"b4","v":25},{"t":0.093,"s":"b4","v":27},{"t":0.094,"s":"b4","v":28},{"t":0.095,"s":"b4","v":30},{"t":0.096,"s":"b4","v":32},{"t":0.097,"s":"b4","v":33},{"t":0.098,"s":"b4","v":34},{"t":0.099,"s":"b4","v":35},
{"t":0.100,"s":"b4","v":37},{"t":0.101,"s":"b4","v":39},{"t":0.102,"s":"b4","v":37},{"t":0.103,"s":"b4","v":33},{"t":0.104,"s":"b4","v":27},{"t":0.105,"s":"b4","v":22},{"t":0.106,"s":"b4","v":18.5},{"t":0.107,"s":"b4","v":15},{"t":0.108,"s":"b4","v":13},{"t":0.109,"s":"b4","v":12},
{"t":0.110,"s":"b4","v":11.5},{"t":0.111,"s":"b4","v":11},{"t":0.112,"s":"b4","v":9.5},{"t":0.113,"s":"b4","v":9.5},{"t":0.114,"s":"b4","v":10},{"t":0.115,"s":"b4","v":11},{"t":0.116,"s":"b4","v":14},{"t":0.117,"s":"b4","v":16.5},{"t":0.118,"s":"b4","v":17.5},{"t":0.119,"s":"b4","v":18},
{"t":0.120,"s":"b4","v":17.5},{"t":0.121,"s":"b4","v":17},{"t":0.122,"s":"b4","v":16.5},{"t":0.123,"s":"b4","v":15},{"t":0.124,"s":"b4","v":13.5},{"t":0.125,"s":"b4","v":11},{"t":0.126,"s":"b4","v":8},{"t":0.127,"s":"b4","v":4.5},{"t":0.128,"s":"b4","v":4},{"t":0.129,"s":"b4","v":7},
{"t":0.130,"s":"b4","v":10},{"t":0.131,"s":"b4","v":12},{"t":0.132,"s":"b4","v":15},{"t":0.133,"s":"b4","v":17},{"t":0.134,"s":"b4","v":20},{"t":0.135,"s":"b4","v":23},{"t":0.136,"s":"b4","v":26},{"t":0.137,"s":"b4","v":31},{"t":0.138,"s":"b4","v":35},{"t":0.139,"s":"b4","v":39},
{"t":0.140,"s":"b4","v":42},{"t":0.141,"s":"b4","v":44},{"t":0.142,"s":"b4","v":44.5},{"t":0.143,"s":"b4","v":44},{"t":0.144,"s":"b4","v":42},{"t":0.145,"s":"b4","v":38},{"t":0.146,"s":"b4","v":33},{"t":0.147,"s":"b4","v":27},{"t":0.148,"s":"b4","v":19},{"t":0.149,"s":"b4","v":14},{"t":0.150,"s":"b4","v":10}
]
},
"hconcat": [
{
"width": 410, "height": 301,
"data": {"name": "a"},
"title": {"text": ["(a) 铰链系统在不同本构下的等效塑性应变-时间曲线", "(a) Equivalent plastic strain-time curve of the hinge system with", "different constitutive models"], "orient": "bottom", "anchor": "middle", "frame": "group", "dx": -15, "offset": 11, "lineHeight": 22.5},
"resolve": {"axis": {"x": "independent", "y": "independent"}, "legend": {"color": "independent", "shape": "independent", "strokeDash": "independent"}},
"layer": [
{"mark": {"type": "line", "strokeWidth": 1.5},
"encoding": {
"x": {"field": "t", "type": "quantitative", "scale": {"domain": [-0.0035, 0.152], "nice": false, "zero": false}, "axis": {"orient": "bottom", "values": [0, 0.03, 0.06, 0.09, 0.12, 0.15], "format": ".2f", "tickSize": -7, "labelPadding": 4, "labelFlush": false, "title": "时间 /s", "titleX": 184.5, "titlePadding": 10}},
"y": {"field": "v", "type": "quantitative", "scale": {"domain": [-0.12, 2.5], "nice": false, "zero": false}, "axis": {"orient": "left", "values": [0, 0.5, 1, 1.5, 2, 2.5], "format": ".1f", "tickSize": -7, "labelPadding": 4, "labelFlush": true, "title": "等效塑性应变最大值 /%", "titleFontSize": 20, "titlePadding": 18}},
"color": {"field": "s", "type": "nominal", "scale": {"domain": ["a1", "a2", "a3", "a4"], "range": ["#111111", "#111111", "#d3d3d3", "#8c8c8c"]}, "legend": {"orient": "none", "legendX": 163.4, "legendY": 210, "title": null, "symbolType": "M-3,0L3,0", "symbolSize": 75, "symbolStrokeWidth": 1.5, "labelFontSize": 18, "labelOffset": 12, "rowPadding": 2, "labelExpr": "datum.label=='a1'?'铰链摆臂 ( 动态本构 )':datum.label=='a2'?'铰链支座 ( 动态本构 )':datum.label=='a3'?'铰链摆臂 ( 准静态本构 )':'铰链支座 ( 准静态本构 )'"}},
"strokeDash": {"field": "s", "type": "nominal", "scale": {"domain": ["a1", "a2", "a3", "a4"], "range": [[1, 0], [1, 0], [1, 0], [5, 3]]}, "legend": {"orient": "none", "legendX": 163.4, "legendY": 210, "title": null, "symbolType": "M-3,0L3,0", "symbolSize": 75, "symbolStrokeWidth": 1.5, "labelFontSize": 18, "labelOffset": 12, "rowPadding": 2, "labelExpr": "datum.label=='a1'?'铰链摆臂 ( 动态本构 )':datum.label=='a2'?'铰链支座 ( 动态本构 )':datum.label=='a3'?'铰链摆臂 ( 准静态本构 )':'铰链支座 ( 准静态本构 )'"}}
}},
{"mark": {"type": "point", "filled": true, "opacity": 1, "size": 36},
"encoding": {
"x": {"field": "t", "type": "quantitative", "scale": {"domain": [-0.0035, 0.152], "nice": false, "zero": false}, "axis": {"orient": "bottom", "values": [0.015, 0.045, 0.075, 0.105, 0.135], "labels": false, "tickSize": -4, "title": null}},
"y": {"field": "v", "type": "quantitative", "scale": {"domain": [-0.12, 2.5], "nice": false, "zero": false}, "axis": {"orient": "left", "values": [0.25, 0.75, 1.25, 1.75, 2.25], "labels": false, "tickSize": -4, "title": null}},
"color": {"field": "s", "type": "nominal", "scale": {"domain": ["a1", "a2", "a3", "a4"], "range": ["#111111", "#111111", "#d3d3d3", "#8c8c8c"]}, "legend": {"orient": "none", "legendX": 165, "legendY": 210, "title": null, "symbolSize": 30, "labelFontSize": 18, "labelOpacity": 0, "rowPadding": 2, "labelExpr": "' '"}},
"shape": {"field": "s", "type": "nominal", "scale": {"domain": ["a1", "a2", "a3", "a4"], "range": ["triangle-up", "circle", "triangle-down", "square"]}, "legend": {"orient": "none", "legendX": 165, "legendY": 210, "title": null, "symbolSize": 30, "labelFontSize": 18, "labelOpacity": 0, "rowPadding": 2, "labelExpr": "' '"}}
}}
]
},
{
"width": 409, "height": 301,
"data": {"name": "b"},
"title": {"text": ["(b) 两危险截面在不同本构下的剪力-时间曲线", "(b) Shearing force-time curve of the dangerous sections with", "different constitutive models"], "orient": "bottom", "anchor": "middle", "frame": "group", "dx": -21, "offset": 11, "lineHeight": 22.5},
"resolve": {"axis": {"x": "independent", "y": "independent"}, "legend": {"color": "independent", "shape": "independent"}},
"layer": [
{"mark": {"type": "line", "strokeWidth": 1},
"encoding": {
"x": {"field": "t", "type": "quantitative", "scale": {"domain": [-0.0042, 0.1511], "nice": false, "zero": false}, "axis": {"orient": "bottom", "values": [0, 0.015, 0.03, 0.045, 0.06, 0.075, 0.09, 0.105, 0.12, 0.135, 0.15], "labelExpr": "indexof([0, 0.03, 0.06, 0.09, 0.12, 0.15], datum.value) >= 0 ? format(datum.value, '.2f') : ''", "tickSize": -5, "labelPadding": 4, "labelFlush": false, "title": "时间 /s", "titleX": 184, "titlePadding": 10}},
"y": {"field": "v", "type": "quantitative", "scale": {"domain": [-1.6, 60], "nice": false, "zero": false}, "axis": {"orient": "left", "values": [0, 7.5, 15, 22.5, 30, 37.5, 45, 52.5, 60], "labelExpr": "datum.value % 15 == 0 ? format(datum.value, 'd') : ''", "tickSize": -5, "labelPadding": 6, "labelFlush": true, "title": "剪力 /kN", "titleFontSize": 20, "titleY": 144, "titlePadding": 24}},
"color": {"field": "s", "type": "nominal", "scale": {"domain": ["b1", "b2", "b3", "b4"], "range": ["#111111", "#111111", "#c6c6c6", "#888888"]}, "legend": {"orient": "none", "legendX": 182.3, "legendY": 7.7, "title": null, "symbolType": "M-3,0L3,0", "symbolSize": 69.4, "symbolStrokeWidth": 1.2, "labelFontSize": 14, "labelOffset": 11.6, "rowPadding": 2.7, "labelExpr": "datum.label=='b1'?'A-A 截面 ( 动态本构 )':datum.label=='b2'?'B-B 截面 ( 动态本构 )':datum.label=='b3'?'A-A 截面 ( 准静态本构 )':'B-B 截面 ( 准静态本构 )'"}}
}},
{"mark": {"type": "point", "filled": true, "opacity": 1, "size": 34},
"encoding": {
"x": {"field": "t", "type": "quantitative", "scale": {"domain": [-0.0042, 0.1511], "nice": false, "zero": false}, "axis": {"orient": "top", "values": [0, 0.015, 0.03, 0.045, 0.06, 0.075, 0.09, 0.105, 0.12, 0.135, 0.15], "labels": false, "tickSize": -5, "title": null}},
"y": {"field": "v", "type": "quantitative", "scale": {"domain": [-1.6, 60], "nice": false, "zero": false}, "axis": {"orient": "right", "values": [0, 7.5, 15, 22.5, 30, 37.5, 45, 52.5, 60], "labels": false, "tickSize": -5, "title": null}},
"color": {"field": "s", "type": "nominal", "scale": {"domain": ["b1", "b2", "b3", "b4"], "range": ["#111111", "#111111", "#c6c6c6", "#888888"]}, "legend": {"orient": "none", "legendX": 184, "legendY": 7.7, "title": null, "symbolSize": 25, "labelFontSize": 14, "labelOpacity": 0, "rowPadding": 2.7, "labelExpr": "' '"}},
"shape": {"field": "s", "type": "nominal", "scale": {"domain": ["b1", "b2", "b3", "b4"], "range": ["triangle-up", "circle", "triangle-down", "square"]}, "legend": {"orient": "none", "legendX": 184, "legendY": 7.7, "title": null, "symbolSize": 25, "labelFontSize": 14, "labelOpacity": 0, "rowPadding": 2.7, "labelExpr": "' '"}}
}}
]
}
]
}
